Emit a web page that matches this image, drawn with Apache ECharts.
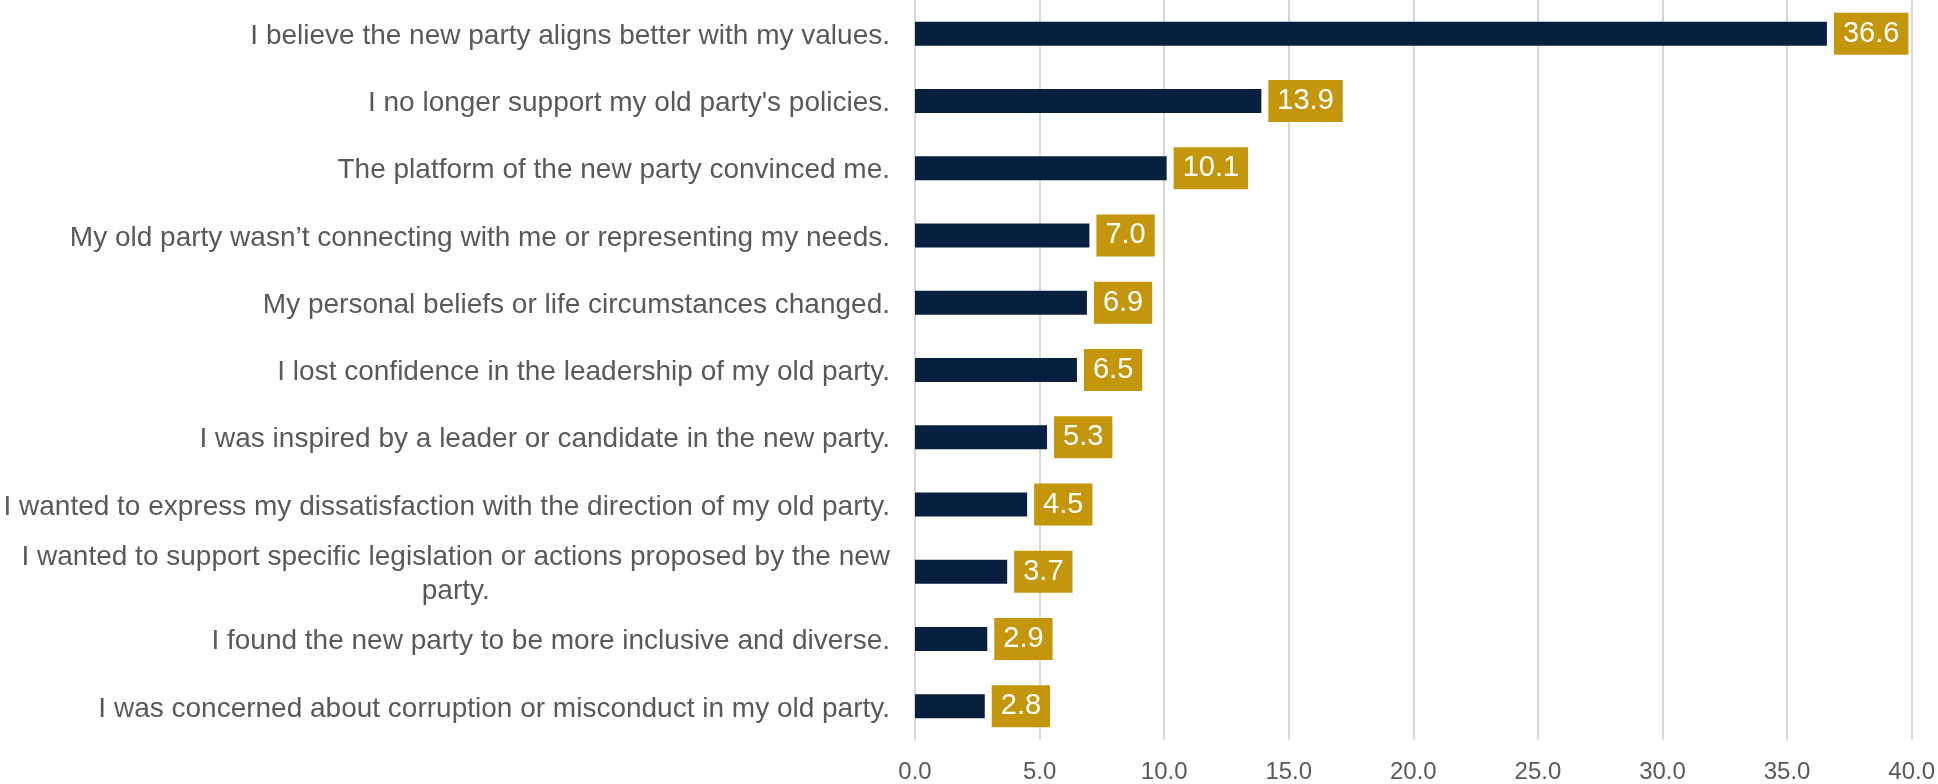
<!DOCTYPE html>
<html>
<head>
<meta charset="utf-8">
<script src="https://cdn.jsdelivr.net/npm/echarts@6/dist/echarts.min.js"></script>
<style>html,body{margin:0;padding:0;background:#fff}#c{width:1938px;height:784px}</style>
</head>
<body>
<div id="c"></div>
<script>
const categories = [
  "I believe the new party aligns better with my values.",
  "I no longer support my old party's policies.",
  "The platform of the new party convinced me.",
  "My old party wasn\u2019t connecting with me or representing my needs.",
  "My personal beliefs or life circumstances changed.",
  "I lost confidence in the leadership of my old party.",
  "I was inspired by a leader or candidate in the new party.",
  "I wanted to express my dissatisfaction with the direction of my old party.",
  "I wanted to support specific legislation or actions proposed by the new\nparty.",
  "I found the new party to be more inclusive and diverse.",
  "I was concerned about corruption or misconduct in my old party."
];
const values = [36.6, 13.9, 10.1, 7.0, 6.9, 6.5, 5.3, 4.5, 3.7, 2.9, 2.8];

const FONT = 'Liberation Sans, Arial, sans-serif';
const chart = echarts.init(document.getElementById('c'), null, {renderer: 'canvas'});
chart.setOption({
  animation: false,
  backgroundColor: '#ffffff',
  grid: {left: 915, right: 25, top: 0, bottom: 41, containLabel: false},
  xAxis: {
    type: 'value', min: 0, max: 40, interval: 5,
    axisLine: {show: false}, axisTick: {show: false},
    splitLine: {show: true, lineStyle: {color: '#d9d9d9', width: 2}},
    axisLabel: {
      color: '#595959', fontSize: 24, fontFamily: FONT,
      margin: 20, formatter: v => v.toFixed(1)
    }
  },
  yAxis: {
    type: 'category', inverse: true, data: categories,
    axisLine: {show: false}, axisTick: {show: false},
    axisLabel: {
      color: '#595959', fontSize: 28, fontFamily: FONT,
      margin: 25, lineHeight: 34, padding: [5, 0, 0, 0],
      formatter: s => s.split('\n').map(l => '{c|' + l + '}').join('\n'),
      rich: {c: {align: 'center', color: '#595959', fontSize: 28, lineHeight: 34, fontFamily: FONT}}
    }
  },
  series: [{
    type: 'bar', data: values, barWidth: 24,
    itemStyle: {color: '#08203f'},
    label: {
      show: true, position: 'right', distance: 7,
      formatter: p => p.value.toFixed(1),
      color: '#ffffff', fontSize: 29, fontFamily: FONT,
      backgroundColor: '#c4960c', padding: [7, 9, 6, 9], lineHeight: 29
    }
  }]
});
</script>
</body>
</html>
